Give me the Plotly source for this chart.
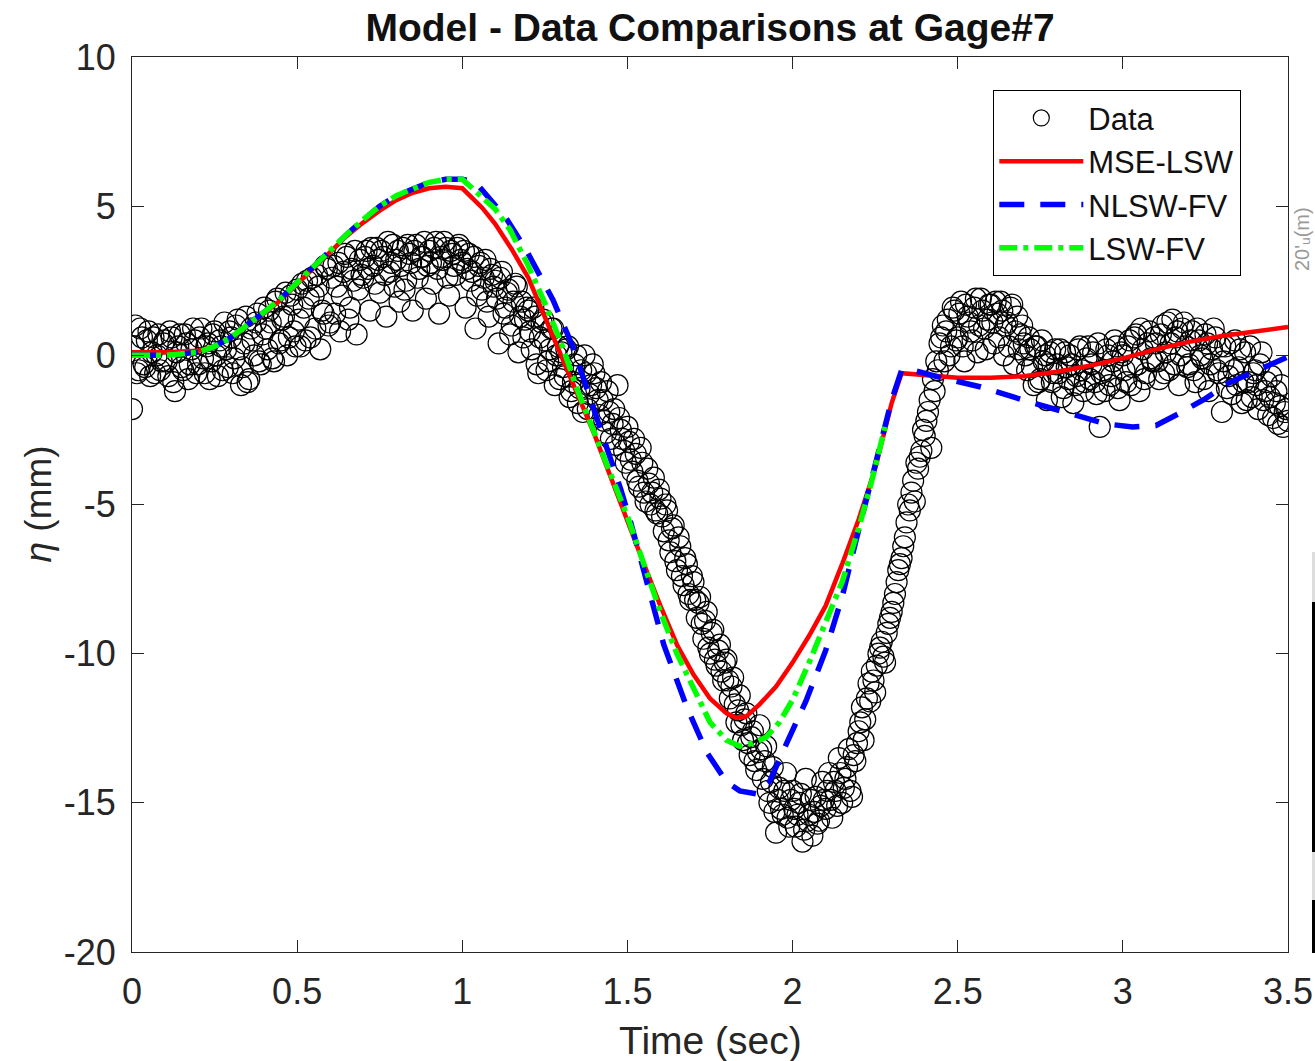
import plotly.graph_objects as go

# ---------------- data ----------------
# gauge samples, first pass (t = 0.00, 0.01, ...)
data_eta_a = [
    -1.8, 1.0, -0.5, 0.6, -0.4, 0.8, 0.1, -0.6, 0.7, -0.2,
    0.5, -0.7, 0.6, -1.2, 0.3, -0.4, 0.7, -0.8, 0.2, 0.5,
    -0.3, 0.9, -0.6, 0.4, -0.2, 0.8, -0.7, 0.3, 1.1, -0.4,
    0.6, -0.1, 1.2, -1.0, 0.4, -0.9, 0.9, 0.0, 1.4, -0.3,
    1.6, 0.2, 1.1, -0.2, 1.9, 0.5, 1.3, 0.0, 2.0, 0.8,
    2.2, 0.3, 1.6, 2.5, 0.6, 2.0, 2.7, 0.2, 1.4, 2.9,
    1.1, 3.0, 2.3, 0.8, 2.8, 3.3, 1.6, 2.5, 0.7, 3.2,
    2.6, 3.5, 1.5, 3.0, 3.6, 2.1, 3.3, 1.3, 2.8, 3.7,
    3.2, 1.8, 3.6, 2.5, 3.4, 1.5, 3.7, 2.9, 3.3, 1.9,
    3.5, 2.4, 3.8, 1.4, 3.2, 3.6, 2.0, 3.4, 2.7, 3.7,
    3.1, 1.6, 3.4, 2.8, 0.9, 3.0, 2.2, 3.2, 1.3, 2.7,
    2.5, 0.4, 2.8, 1.6, 2.2, 1.0, 2.4, 0.1, 1.8, 1.2,
    1.5, 0.2, 1.3, -0.6, 1.1, 0.5, -0.2, 0.9, -1.0, 0.3,
    0.1, -0.7, 0.3, -1.2, -0.3, -1.6, -0.5, 0.0, -1.8, -1.0,
    -0.6, -1.5, -0.9, -2.2, -1.2, -2.8, -1.8, -1.0, -2.5, -3.2,
    -2.4, -3.5, -2.8, -4.2, -3.1, -4.6, -3.8, -5.0, -4.1, -5.3,
    -4.8, -5.9, -5.2, -6.6, -5.7, -7.2, -6.4, -7.7, -7.0, -8.2,
    -7.6, -8.8, -8.1, -9.5, -8.6, -10.0, -9.2, -10.4, -9.7, -10.9,
    -10.2, -11.5, -10.8, -12.3, -11.4, -12.9, -12.0, -13.4, -12.6, -13.9,
    -12.4, -14.2, -13.1, -15.0, -13.8, -16.0, -14.5, -15.4, -14.0, -15.8,
    -14.6, -15.8, -15.0, -16.3, -14.2, -15.4, -16.1, -14.8, -15.6, -14.3,
    -15.2, -14.0, -15.5, -14.6, -13.5, -15.0, -14.2, -13.2, -14.8, -13.6,
    -12.6, -11.8, -12.2, -11.0, -10.6, -11.3, -10.0, -9.6, -10.3, -9.0,
    -8.6, -8.0, -7.2, -6.8, -6.1, -5.0, -4.6, -4.9, -3.8, -3.2,
    -2.7, -1.9, -3.1, -1.2, -0.5, 0.6, -0.2, 1.2, 0.3, 1.5,
    0.6, 1.8, -0.2, 1.3, 0.8, 1.6, 0.1, 1.9, 0.9, 1.2,
    1.7, 0.4, 1.4, 1.8, 0.0, 1.1, 1.6, -0.3, 1.3, 0.7,
    0.4, -0.5, 0.2, -1.0, 0.3, -0.8, -0.2, -1.5, 0.1, -0.6,
    -0.3, 0.2, -1.1, -0.4, 0.0, -1.6, -0.7, 0.3, -1.2, -0.1,
    -0.8, 0.1, -1.3, -2.4, -0.5, 0.2, -1.0, -0.2, 0.3, -1.5,
    0.0, -0.9, 0.5, -0.4, 0.7, -1.2, 0.2, -0.6, 0.8, -0.2,
    0.4, -0.8, 1.0, 0.1, -0.5, 1.2, 0.6, -1.0, 0.9, 0.3,
    -0.3, 0.8, -0.9, 0.5, -0.1, 0.7, -1.2, 0.2, 0.6, -0.6,
    -1.9, 0.3, -0.7, -1.3, 0.5, -0.4, -1.6, 0.1, -0.9, -1.4,
    -0.5, -1.8, 0.1, -1.2, -2.0, -0.7, -1.6, -2.3, -1.0, -1.9,
    -2.2,
]
# gauge samples, second pass (t = 0.005, 0.015, ...)
data_eta_b = [
    0.3, -0.6, 0.9, -0.3, 0.5, -0.7, 0.6, 0.0, -0.5, 0.4,
    -0.2, 0.8, -0.9, 0.1, 0.7, -0.5, 0.4, -0.3, 0.9, -0.6,
    0.6, -0.1, 0.3, -0.8, 0.7, 0.0, 0.5, -0.5, 0.2, 0.8,
    -0.6, 1.0, 0.2, -0.4, 1.3, -0.8, 0.5, 1.1, -0.2, 0.7,
    0.9, 1.5, -0.1, 1.8, 0.4, 1.2, 2.1, 0.6, 1.7, 0.3,
    1.2, 2.4, 0.5, 1.9, 2.6, 0.9, 2.3, 1.5, 3.0, 1.0,
    2.6, 1.4, 3.1, 2.0, 3.4, 1.2, 2.9, 3.5, 2.2, 2.7,
    3.3, 2.9, 3.6, 2.4, 3.2, 3.5, 2.7, 3.8, 3.1, 2.3,
    3.5, 3.0, 2.2, 3.7, 3.1, 3.5, 2.6, 3.3, 3.8, 3.0,
    3.1, 3.6, 2.9, 3.3, 3.8, 2.6, 3.5, 3.0, 3.6, 3.2,
    3.5, 2.9, 2.5, 3.3, 2.0, 3.1, 2.6, 1.8, 2.9, 2.3,
    1.9, 2.6, 1.4, 2.1, 0.7, 1.8, 2.3, 1.3, 0.6, 1.6,
    0.8, 1.6, -0.3, 0.6, 1.2, -0.5, 0.2, 0.9, 0.0, -0.8,
    -0.4, 0.2, -1.4, -0.9, 0.0, -1.1, -1.9, -0.6, -1.3, -0.3,
    -1.1, -2.0, -1.5, -2.6, -1.9, -2.3, -3.0, -2.1, -2.8, -3.6,
    -2.9, -3.9, -3.3, -4.4, -3.6, -4.9, -4.3, -4.6, -5.2, -4.5,
    -5.4, -5.0, -6.2, -5.8, -6.9, -6.1, -7.4, -6.8, -8.0, -7.4,
    -8.2, -8.3, -9.0, -8.9, -9.8, -9.3, -10.2, -9.9, -10.6, -10.3,
    -10.9, -11.1, -11.7, -11.9, -12.4, -12.2, -13.0, -12.8, -13.6, -13.3,
    -13.2, -13.6, -14.6, -14.3, -15.3, -14.9, -15.2, -14.6, -15.5, -14.9,
    -15.2, -15.4, -14.7, -15.9, -15.6, -14.9, -15.3, -15.7, -15.1, -14.9,
    -14.6, -14.9, -14.3, -15.1, -14.0, -14.5, -13.8, -14.6, -13.4, -13.0,
    -12.3, -12.9, -11.5, -11.6, -10.9, -10.4, -9.8, -10.1, -9.3, -8.8,
    -8.3, -7.6, -7.0, -6.4, -5.6, -5.2, -4.2, -3.6, -3.4, -2.5,
    -2.2, -1.5, -0.8, -0.2, 0.4, 1.0, 0.8, 0.0, 1.6, 0.5,
    1.4, 0.3, 1.7, 1.1, 0.5, 1.9, 1.0, 1.5, 0.2, 1.7,
    1.1, 1.8, 0.6, 1.5, 1.0, 0.3, 1.7, 0.8, 0.2, 1.0,
    0.0, 0.6, -0.4, 0.3, -0.9, 0.5, 0.0, -0.3, -0.9, 0.2,
    -0.6, -1.4, 0.1, -0.8, -0.3, -1.0, 0.2, -0.5, -0.9, 0.3,
    -0.3, -0.9, 0.4, -0.6, -1.2, 0.0, -0.7, 0.5, -1.1, 0.1,
    -0.5, 0.3, -1.0, 0.6, -0.3, 0.9, -0.8, 0.4, -0.1, 0.6,
    -0.2, 0.7, -0.6, 1.1, 0.4, -0.3, 0.8, 0.0, 1.1, -0.4,
    0.5, -0.5, 0.9, 0.0, -0.8, 0.4, -0.3, 0.9, -0.5, 0.3,
    -0.2, -1.1, 0.4, -0.5, -1.0, 0.2, -0.9, -1.5, 0.3, -0.6,
    -1.0, -0.3, -1.5, -0.9, -1.4, -2.1, -1.2, -1.7, -2.4, -1.8,
]
data_dt = 0.01
data_time_a = [round(i * data_dt, 3) for i in range(len(data_eta_a))]
data_time_b = [round(0.005 + i * data_dt, 3) for i in range(len(data_eta_b))]
data_time = data_time_a + data_time_b
data_eta = data_eta_a + data_eta_b

mse_t = [0, 0.1, 0.2, 0.25, 0.3, 0.35, 0.4, 0.45, 0.5, 0.55, 0.6, 0.65, 0.7,
         0.75, 0.8, 0.85, 0.9, 0.95, 1.0, 1.03, 1.06, 1.1, 1.15, 1.2, 1.25,
         1.3, 1.35, 1.4, 1.45, 1.5, 1.55, 1.6, 1.65, 1.7, 1.75, 1.8, 1.83,
         1.86, 1.9, 1.95, 2.0, 2.05, 2.1, 2.15, 2.2, 2.25, 2.3, 2.33, 2.4,
         2.5, 2.6, 2.7, 2.8, 2.9, 3.0, 3.1, 3.2, 3.3, 3.4, 3.5]
mse_eta = [0.1, 0.1, 0.15, 0.3, 0.6, 1.0, 1.4, 1.85, 2.4, 2.95, 3.5, 4.0, 4.45,
           4.85, 5.2, 5.45, 5.6, 5.65, 5.6, 5.3, 4.95, 4.4, 3.55, 2.6, 1.3,
           0.0, -1.3, -2.65, -4.1, -5.6, -7.0, -8.4, -9.7, -10.7, -11.5, -12.0, -12.15,
           -12.1, -11.7, -11.1, -10.3, -9.4, -8.4, -7.0, -5.5, -3.8, -1.6, -0.6, -0.65,
           -0.75, -0.75, -0.7, -0.55, -0.35, -0.1, 0.2, 0.45, 0.65, 0.8, 0.95]

nlsw_t = [0, 0.1, 0.2, 0.25, 0.3, 0.35, 0.4, 0.45, 0.5, 0.55, 0.6, 0.65, 0.7,
          0.75, 0.8, 0.85, 0.9, 0.95, 1.0, 1.04, 1.08, 1.13, 1.19, 1.23, 1.275,
          1.335, 1.387, 1.44, 1.48, 1.51, 1.56, 1.61, 1.68, 1.74, 1.8, 1.84,
          1.89, 1.93, 1.97, 2.04, 2.1, 2.15, 2.19, 2.23, 2.27, 2.3, 2.33, 2.365,
          2.45, 2.57, 2.72, 2.87, 2.95, 3.03, 3.1, 3.17, 3.25, 3.32, 3.4, 3.475, 3.5]
nlsw_eta = [0.0, 0.0, 0.1, 0.3, 0.6, 1.0, 1.45, 1.9, 2.45, 3.0, 3.5, 4.05, 4.55,
            5.0, 5.35, 5.6, 5.8, 5.9, 5.9, 5.8, 5.3, 4.64, 3.6, 2.8, 1.85,
            0.28, -1.4, -3.08, -4.5, -5.6, -7.7, -9.7, -11.8, -13.3, -14.3, -14.6,
            -14.7, -14.3, -13.3, -11.6, -9.9, -8.1, -6.3, -4.6, -2.84, -1.5, -0.5, -0.5,
            -0.75, -1.06, -1.57, -2.07, -2.3, -2.4, -2.35, -1.95, -1.45, -0.93, -0.55, -0.15, -0.05]

lsw_t = [0, 0.1, 0.2, 0.25, 0.3, 0.35, 0.4, 0.45, 0.5, 0.55, 0.6, 0.65, 0.7,
         0.75, 0.8, 0.85, 0.9, 0.95, 1.0, 1.05, 1.1, 1.145, 1.2, 1.25, 1.3,
         1.35, 1.4, 1.45, 1.5, 1.55, 1.6, 1.65, 1.7, 1.75, 1.8, 1.84, 1.88,
         1.92, 1.96, 2.0, 2.05, 2.1, 2.15, 2.2, 2.24, 2.28]
lsw_eta = [0.0, 0.0, 0.1, 0.3, 0.6, 1.0, 1.45, 1.9, 2.45, 3.0, 3.5, 4.05, 4.55,
           5.0, 5.35, 5.6, 5.8, 5.9, 5.9, 5.4, 4.9, 4.2, 3.0, 1.75, 0.4,
           -1.2, -2.6, -3.9, -5.4, -7.0, -8.6, -10.0, -11.2, -12.3, -12.9, -13.1, -13.0,
           -12.8, -12.3, -11.55, -10.3, -9.0, -7.6, -5.8, -4.2, -2.4]

x_ticks = [0, 0.5, 1, 1.5, 2, 2.5, 3, 3.5]
x_tick_labels = ["0", "0.5", "1", "1.5", "2", "2.5", "3", "3.5"]
y_ticks = [-20, -15, -10, -5, 0, 5, 10]
y_tick_labels = ["-20", "-15", "-10", "-5", "0", "5", "10"]

# ---------------- figure ----------------
FONT = "Liberation Sans, Arial, Helvetica, sans-serif"
AX = "#262626"

fig = go.Figure()
fig.add_trace(go.Scatter(
    x=data_time, y=data_eta, mode="markers", name="Data",
    marker=dict(symbol="circle-open", size=21, color="black",
                line=dict(width=1.2, color="black")),
))
fig.add_trace(go.Scatter(
    x=mse_t, y=mse_eta, mode="lines", name="MSE-LSW",
    line=dict(color="#ff0000", width=4.5),
))
fig.add_trace(go.Scatter(
    x=nlsw_t, y=nlsw_eta, mode="lines", name="NLSW-FV",
    line=dict(color="#0000ff", width=5.5, dash="25px,16px"),
))
fig.add_trace(go.Scatter(
    x=lsw_t, y=lsw_eta, mode="lines", name="LSW-FV",
    line=dict(color="#00ff00", width=5.5, dash="18px,6px,5px,6px"),
))

axis_common = dict(
    showgrid=False, zeroline=False, showline=True, linecolor=AX, linewidth=1.2,
    mirror="ticks", ticks="inside", ticklen=12, tickwidth=1.2, tickcolor=AX,
    tickfont=dict(family=FONT, size=36, color=AX), automargin=False,
)

fig.update_layout(
    width=1315, height=1061,
    margin=dict(l=132, r=27, t=57, b=109, autoexpand=False),
    paper_bgcolor="white", plot_bgcolor="white",
    showlegend=True,
    title=dict(text="<b>Model - Data Comparisons at Gage#7</b>",
               font=dict(family=FONT, size=39, color="#111111"),
               x=0.5, xref="paper", y=1 - 27 / 1061, yref="container",
               xanchor="center", yanchor="middle"),
    xaxis=dict(range=[0, 3.5], tickvals=x_ticks, ticktext=x_tick_labels,
               ticklabelstandoff=8, **axis_common),
    yaxis=dict(range=[-20, 10], tickvals=y_ticks, ticktext=y_tick_labels,
               ticklabelstandoff=8, **axis_common),
    legend=dict(x=(993 - 132) / 1156, y=1 - (90 - 57) / 895,
                xanchor="left", yanchor="top",
                bgcolor="white", bordercolor="black", borderwidth=1.3,
                font=dict(family=FONT, size=31, color="#111111"),
                itemwidth=84, tracegroupgap=0, traceorder="normal"),
    annotations=[
        dict(text="Time (sec)", xref="paper", yref="paper", x=0.5, y=0,
             yshift=-88, showarrow=False, yanchor="middle",
             font=dict(family=FONT, size=39, color=AX)),
        dict(text="<i>η</i> (mm)", xref="paper", yref="paper", x=0, y=0.5,
             xshift=-94, showarrow=False, textangle=-90, xanchor="center",
             font=dict(family=FONT, size=37, color=AX)),
        dict(text="20'ᵤ(m)", xref="paper", yref="paper", x=1, y=(952 - 205) / 895,
             xshift=14, showarrow=False, textangle=-90, xanchor="center",
             font=dict(family=FONT, size=20, color="#999999")),
    ],
)

# right-edge fragments of a neighbouring panel (pixel-anchored)
for (ytop, ybot, col) in [(552, 602, "#dddddd"), (602, 852, "black"),
                          (852, 900, "#dddddd"), (900, 953, "black")]:
    fig.add_shape(type="rect", xref="paper", yref="paper",
                  xsizemode="pixel", xanchor=1, x0=24, x1=28,
                  y0=(952 - ybot) / 895, y1=(952 - ytop) / 895,
                  line=dict(width=0), fillcolor=col, layer="above")

fig.write_html("out.html")
